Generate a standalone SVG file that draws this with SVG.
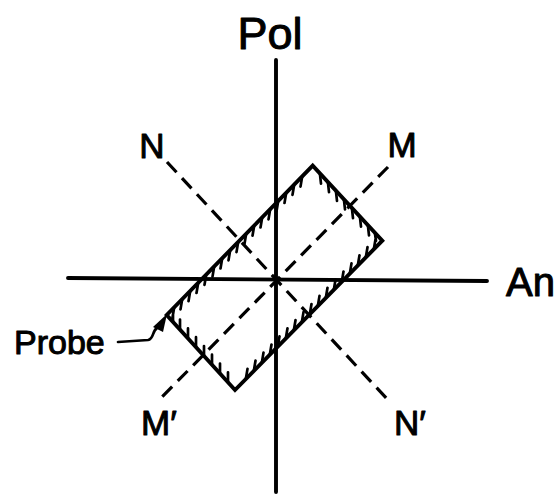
<svg xmlns="http://www.w3.org/2000/svg" width="560" height="495" viewBox="0 0 560 495">
<style>
.ax{stroke:#000;stroke-width:3.9;fill:none;stroke-linecap:round}
.ds{stroke:#000;stroke-width:3.2;fill:none;stroke-dasharray:14 8}
.tk{stroke:#000;stroke-width:2.7;fill:none;stroke-linecap:round}
.lb{font-family:"Liberation Sans",Arial,sans-serif;fill:#000;stroke:#000;stroke-width:1;stroke-linejoin:round}
</style>
<rect width="560" height="495" fill="#fff"/>
<g id="connectors">
<line class="ax" x1="276" y1="60" x2="276" y2="492"/>
<line class="ax" x1="68" y1="278" x2="487" y2="281"/>
<line class="ds" x1="167" y1="162" x2="388" y2="400"/>
<line class="ds" x1="388" y1="167" x2="162" y2="397"/>
<path d="M118,342 L148,340 C154,339 152,331 157,328" class="tk" stroke-width="3"/>
<polygon points="153,327 167,314 163,332" fill="#000"/>
</g>
<g id="probe">
<polygon points="312.7,165.7 382.3,240.7 235,390 166.7,315" class="ax" stroke-linejoin="miter"/>
<path class="tk" d="M174,308.5l-1.5,9 M182,300.4l-1.5,9 M190,292.2l-1.5,9 M198,284l-1.5,9 M206,275.8l-1.5,9 M214,267.6l-1.5,9 M222,259.5l-1.5,9 M230,251.3l-1.5,9 M238,243.1l-1.5,9 M246,234.9l-1.5,9 M254,226.7l-1.5,9 M262,218.5l-1.5,9 M270,210.4l-1.5,9 M278,202.2l-1.5,9 M286,194l-1.5,9 M294,185.8l-1.5,9 M302,177.6l-1.5,9
M320,174.6l1,9 M328,183.2l1,9 M336,191.8l1,9 M344,200.4l1,9 M352,209.1l1,9 M360,217.7l1,9 M368,226.3l1,9 M375,233.8l1,7
M374,248.1l1.5,-9 M366,256.2l1.5,-9 M358,264.3l1.5,-9 M350,272.4l1.5,-9 M342,280.5l1.5,-9 M334,288.7l1.5,-9 M326,296.8l1.5,-9 M318,304.9l1.5,-9 M310,313l1.5,-9 M302,321.1l1.5,-9 M294,329.2l1.5,-9 M286,337.3l1.5,-9 M278,345.4l1.5,-9 M270,353.5l1.5,-9 M262,361.6l1.5,-9 M254,369.7l1.5,-9 M246,377.9l1.5,-9
M228,381.3l0,-9 M220,372.5l0,-9 M212,363.7l0,-9 M204,355l0,-9 M196,346.2l0,-9 M188,337.4l0,-9 M180,328.6l0,-9 M173,320.9l0,-7"/>
</g>
<g id="label-pol"><text class="lb" x="270" y="49" font-size="45" text-anchor="middle">Pol</text></g>
<g id="label-an"><text class="lb" x="506" y="296" font-size="40">An</text></g>
<g id="label-n"><text class="lb" x="152" y="158" font-size="35" text-anchor="middle">N</text></g>
<g id="label-m"><text class="lb" x="402" y="157" font-size="35" text-anchor="middle">M</text></g>
<g id="label-m2"><text class="lb" x="141" y="435" font-size="35">M′</text></g>
<g id="label-n2"><text class="lb" x="394" y="435" font-size="35">N′</text></g>
<g id="label-probe"><text class="lb" x="14" y="354" font-size="34">Probe</text></g>
</svg>
